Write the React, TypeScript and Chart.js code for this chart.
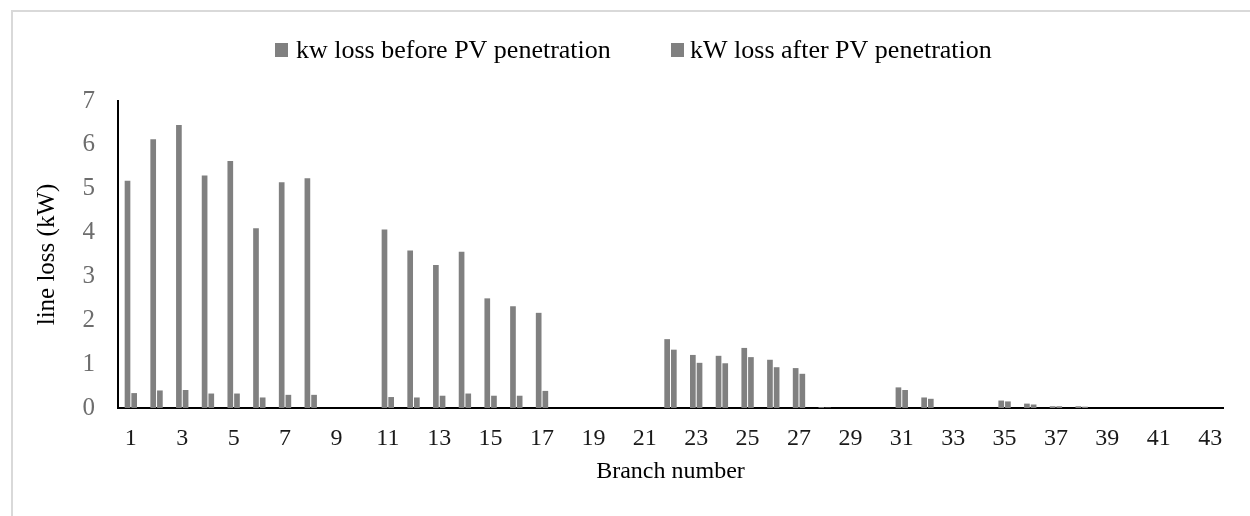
import React, { useEffect, useRef } from "react";
import { Chart, registerables } from "chart.js";

Chart.register(...registerables);

const categories: string[] = Array.from({ length: 43 }, (_, i) => String(i + 1));

const lossBefore: number[] = [
  5.18, 6.13, 6.45, 5.3, 5.63, 4.1, 5.15, 5.24, 0, 0,
  4.07, 3.59, 3.26, 3.56, 2.5, 2.32, 2.17, 0, 0, 0,
  0, 1.57, 1.21, 1.19, 1.37, 1.1, 0.91, 0.02, 0, 0,
  0.47, 0.24, 0, 0, 0.17, 0.1, 0.04, 0.04, 0, 0,
  0, 0, 0,
];

const lossAfter: number[] = [
  0.34, 0.4, 0.41, 0.33, 0.33, 0.24, 0.3, 0.3, 0, 0,
  0.25, 0.24, 0.28, 0.33, 0.28, 0.28, 0.39, 0, 0, 0,
  0, 1.33, 1.03, 1.02, 1.16, 0.93, 0.78, 0.01, 0, 0,
  0.41, 0.21, 0, 0, 0.15, 0.08, 0.04, 0.03, 0, 0,
  0, 0, 0,
];

const seriesNames: string[] = ["kw loss before PV penetration", "kW loss after PV penetration"];
const yTitle = "line loss (kW)";
const xTitle = "Branch number";

const SERIF = "'Liberation Serif', 'Times New Roman', serif";
const BAR_COLOR = "#808080";

export default function App() {
  const ref = useRef<HTMLCanvasElement | null>(null);

  useEffect(() => {
    if (!ref.current) return;

    const decor = {
      id: "decor",
      beforeDraw(chart: any) {
        const ctx = chart.ctx;
        ctx.save();
        ctx.fillStyle = "#ffffff";
        ctx.fillRect(0, 0, chart.width, chart.height);
        ctx.fillStyle = "#d9d9d9";
        ctx.fillRect(11, 10, chart.width - 11, 2);
        ctx.fillRect(11, 10, 2, chart.height - 10);
        ctx.restore();
      },
      afterDraw(chart: any) {
        const ctx = chart.ctx;
        const area = chart.chartArea;
        ctx.save();
        // legend
        ctx.font = `26px ${SERIF}`;
        ctx.textBaseline = "alphabetic";
        ctx.textAlign = "left";
        const items = [
          { box: 275, text: 296 },
          { box: 671, text: 690 },
        ];
        items.forEach((it, i) => {
          ctx.fillStyle = BAR_COLOR;
          ctx.fillRect(it.box, 43, 13, 14);
          ctx.fillStyle = "#000000";
          ctx.fillText(seriesNames[i], it.text, 58);
        });
        // x title
        ctx.font = `24px ${SERIF}`;
        ctx.textAlign = "center";
        ctx.textBaseline = "middle";
        ctx.fillStyle = "#000000";
        ctx.fillText(xTitle, (area.left + area.right) / 2, 472);
        // y title
        ctx.translate(47, (area.top + area.bottom) / 2);
        ctx.rotate(-Math.PI / 2);
        ctx.font = `25px ${SERIF}`;
        ctx.fillText(yTitle, 0, 0);
        ctx.restore();
      },
    };

    const chart = new Chart(ref.current, {
      type: "bar",
      data: {
        labels: categories,
        datasets: [
          {
            label: seriesNames[0],
            data: lossBefore,
            backgroundColor: BAR_COLOR,
            borderWidth: 0,
            categoryPercentage: 0.52,
            barPercentage: 0.85,
          },
          {
            label: seriesNames[1],
            data: lossAfter,
            backgroundColor: BAR_COLOR,
            borderWidth: 0,
            categoryPercentage: 0.52,
            barPercentage: 0.85,
          },
        ],
      },
      options: {
        responsive: false,
        animation: false,
        devicePixelRatio: 1,
        layout: { padding: { left: 0, top: 101, right: 27, bottom: 0 } },
        plugins: {
          legend: { display: false },
          tooltip: { enabled: false },
          title: { display: false },
        },
        scales: {
          x: {
            grid: { display: false, drawTicks: false },
            border: { display: true, color: "#000000", width: 2 },
            ticks: {
              autoSkip: false,
              maxRotation: 0,
              minRotation: 0,
              padding: 16,
              color: "#1a1a1a",
              font: { family: SERIF, size: 24 },
              callback: (_v: any, i: number) => (i % 2 === 0 ? categories[i] : ""),
            },
            afterFit: (scale: any) => {
              scale.height = 108;
            },
          },
          y: {
            min: 0,
            max: 7,
            grid: { display: false, drawTicks: false },
            border: { display: true, color: "#000000", width: 2 },
            ticks: {
              stepSize: 1,
              padding: 23,
              color: "#6d6d6d",
              font: { family: SERIF, size: 25 },
            },
            afterFit: (scale: any) => {
              scale.width = 118;
            },
          },
        },
      },
      plugins: [decor],
    });

    return () => chart.destroy();
  }, []);

  return (
    <div style={{ position: "absolute", left: 0, top: 0, width: 1250, height: 516, background: "#fff" }}>
      <canvas ref={ref} width={1250} height={516} style={{ display: "block", width: 1250, height: 516 }} />
    </div>
  );
}
